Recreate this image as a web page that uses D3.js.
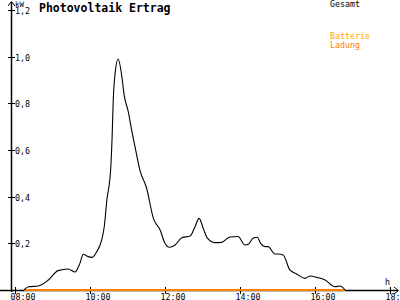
<!DOCTYPE html>
<html>
<head>
<meta charset="utf-8">
<script src="https://cdn.jsdelivr.net/npm/d3@7"></script>
<style>
	body { margin: 0; background: #fff; }
	text { font-family: "DejaVu Sans Mono", monospace; }
</style>
</head>
<body>
<svg id="chart" width="400" height="300"></svg>
<script>
// hours of day (decimal) and kW
const times = [8.24, 8.36, 8.62, 8.89, 9.15, 9.42, 9.6, 9.73, 9.82, 9.95, 10.06, 10.18, 10.31, 10.38, 10.45,
	10.55, 10.59, 10.62, 10.67, 10.75, 10.85, 10.91, 11.02, 11.11, 11.2, 11.33, 11.51, 11.69, 11.87, 12.0,
	12.11, 12.27, 12.45, 12.67, 12.8, 12.91, 13.02, 13.13, 13.33, 13.51, 13.73, 13.95, 14.13, 14.22, 14.35,
	14.46, 14.55, 14.67, 14.75, 14.93, 15.02, 15.15, 15.33, 15.51, 15.73, 15.87, 16.05, 16.27, 16.53, 16.67, 16.8];
const gesamt = [0.0, 0.014, 0.017, 0.043, 0.083, 0.09, 0.077, 0.114, 0.153, 0.143, 0.14, 0.164, 0.214, 0.271, 0.386,
	0.514, 0.657, 0.814, 0.929, 0.99, 0.914, 0.836, 0.764, 0.686, 0.614, 0.514, 0.436, 0.307, 0.257, 0.2,
	0.183, 0.193, 0.224, 0.231, 0.271, 0.307, 0.264, 0.222, 0.203, 0.204, 0.227, 0.229, 0.193, 0.196, 0.222,
	0.226, 0.2, 0.186, 0.186, 0.154, 0.154, 0.15, 0.086, 0.069, 0.05, 0.06, 0.054, 0.043, 0.014, 0.017, 0.0];
const ladung = times.map(() => 0); // battery charging stays at 0

const yTicks = [0.2, 0.4, 0.6, 0.8, 1.0, 1.2];
const xTicks = [8, 10, 12, 14, 16, 18];
const xLabels = ["08:00", "10:00", "12:00", "14:00", "16:00", "18:"];

const svg = d3.select("#chart");

let x = d3.scaleLinear().domain([8, 18]).range([15, 390]);
let y = d3.scaleLinear().domain([0, 1.2]).range([290, 10]);

// axes lines
svg.append("line")
	.attr("x1", 11.5).attr("x2", 11.5)
	.attr("y1", 2).attr("y2", 292)
	.attr("stroke", "#000").attr("stroke-width", 1.5);
svg.append("path")
	.attr("d", "M8,6 L11.5,1.5 L15,6")
	.attr("fill", "none").attr("stroke", "#000");
svg.append("line")
	.attr("x1", 0).attr("x2", 398)
	.attr("y1", 290.5).attr("y2", 290.5)
	.attr("stroke", "#000").attr("stroke-width", 1.5);
svg.append("path")
	.attr("d", "M394,287 L398.5,290.5 L394,294")
	.attr("fill", "none").attr("stroke", "#000");

// y ticks
let yt = svg.selectAll("g.ytick")
	.data(yTicks)
	.join("g")
	.classed("ytick", true)
	.attr("transform", (d) => `translate(0, ${Math.round(y(d)) + 0.5})`);
yt.append("line")
	.attr("x1", 8).attr("x2", 15)
	.attr("stroke", "#000");
yt.append("text")
	.attr("x", 15)
	.attr("y", 3)
	.attr("font-size", 8.3)
	.text((d) => d.toFixed(1).replace(".", ","));

svg.append("text")
	.attr("x", 15).attr("y", 6.5)
	.attr("font-size", 7.5)
	.text("kW");

// x ticks
let xt = svg.selectAll("g.xtick")
	.data(xTicks)
	.join("g")
	.classed("xtick", true)
	.attr("transform", (d) => `translate(${Math.round(x(d)) + 0.5}, 0)`);
xt.append("line")
	.attr("y1", 287).attr("y2", 294)
	.attr("stroke", "#000");
xt.append("text")
	.attr("x", -5)
	.attr("y", 299.5)
	.attr("font-size", 8.3)
	.text((d, i) => xLabels[i]);

svg.append("text")
	.attr("x", 385).attr("y", 285)
	.attr("font-size", 8.3)
	.text("h");

// series
let line = d3.line()
	.x((d) => x(d[0]))
	.y((d) => y(d[1]))
	.curve(d3.curveMonotoneX);

svg.append("path")
	.datum(times.map((t, i) => [t, ladung[i]]))
	.attr("d", line)
	.attr("fill", "none")
	.attr("stroke", "#ff8000")
	.attr("stroke-width", 2);

svg.append("path")
	.datum(times.map((t, i) => [t, gesamt[i]]))
	.attr("d", line)
	.attr("fill", "none")
	.attr("stroke", "#000")
	.attr("stroke-width", 1.1);

// title and legend
svg.append("text")
	.attr("x", 39).attr("y", 12)
	.attr("font-size", 11.5)
	.attr("font-weight", "bold")
	.text("Photovoltaik Ertrag");

svg.append("text")
	.attr("x", 330).attr("y", 7)
	.attr("font-size", 8.3)
	.text("Gesamt");
svg.append("text")
	.attr("x", 330).attr("y", 39)
	.attr("font-size", 8.3)
	.attr("fill", "#ffa800")
	.text("Batterie");
svg.append("text")
	.attr("x", 330).attr("y", 47.5)
	.attr("font-size", 8.3)
	.attr("fill", "#ff8000")
	.text("Ladung");
</script>
</body>
</html>
